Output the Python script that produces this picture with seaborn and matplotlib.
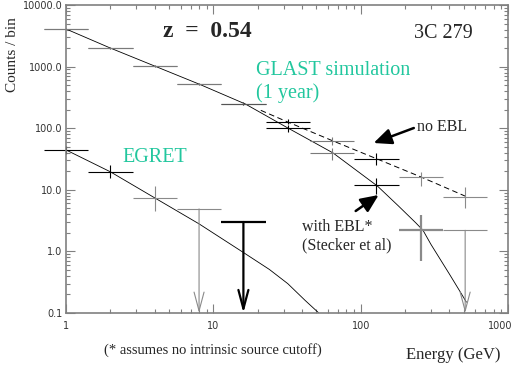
"""
GLAST simulation vs EGRET spectrum of 3C 279 (z = 0.54)
"""

import numpy as np
import pandas as pd
import matplotlib
matplotlib.use('Agg')
import matplotlib.pyplot as plt
import matplotlib.transforms as mtransforms
from matplotlib.ticker import FuncFormatter, NullFormatter, LogLocator
import seaborn as sns

# Energy bins (GeV)
bin_center = [1, 2, 4, 8, 16, 32, 64, 128, 256, 512]
bin_lo = [0.71, 1.41, 2.83, 5.66, 11.3, 22.6, 45.3, 90.5, 181, 362]
bin_hi = [1.41, 2.83, 5.66, 11.3, 22.6, 45.3, 90.5, 181, 362, 724]

# GLAST simulated counts, no EBL absorption
glast_noebl = [4080, 2000, 1020, 520, 250, 126, 62, 31.6, 16.2, 7.6]
glast_noebl_lo = [4020, 1955, 988, 497, 235, 115, 54, 25.1, 11.6, 5.1]
glast_noebl_hi = [4140, 2045, 1052, 543, 266, 141, 72, 39.4, 19.5, 11.1]

# GLAST simulated counts, with EBL absorption (last bin is an upper limit)
glast_ebl = [4080, 2000, 1020, 520, 250, 101, 39.6, 12.0, 2.2, 2.2]
glast_ebl_lo = [4020, 1955, 988, 497, 235, 86.6, 30.3, 8.4, 0.70, np.nan]
glast_ebl_hi = [4140, 2045, 1052, 543, 266, 114, 47, 15.6, 3.9, np.nan]
glast_ebl_limit = [False, False, False, False, False, False, False, False, False, True]

# EGRET counts (last two bins are upper limits)
egret_center = [1, 2, 4, 8, 16]
egret = [44.4, 19.6, 7.4, 4.9, 3.0]
egret_lo = [38.0, 15.6, 4.5, np.nan, np.nan]
egret_hi = [51.0, 25.4, 11.6, np.nan, np.nan]
egret_limit = [False, False, False, True, True]

# model curves
curve_ebl_E = [1, 2, 4, 8, 16.5, 32, 65, 130, 180, 237, 265, 300, 400, 480, 522]
curve_ebl = [4080, 2000, 1020, 520, 247, 101, 39.6, 11.5, 5.5, 2.9, 2.2, 1.3, 0.43, 0.21, 0.15]
curve_noebl_E = [21, 32, 64, 128, 256, 525]
curve_noebl = [195, 126, 63, 32, 16.2, 7.7]
curve_egret_E = [1, 2, 4, 8, 16, 24, 32, 42, 52]
curve_egret = [44.4, 19.6, 7.4, 2.8, 0.96, 0.51, 0.30, 0.16, 0.1]

# bar colours / widths per bin, as rendered
noebl_colors = ['#7a7a7a', '#7a7a7a', '#7a7a7a', '#7a7a7a', '#555555',
                'black', '#7a7a7a', 'black', '#8a8a8a', '#8a8a8a']
ebl_colors = ['#7a7a7a', '#7a7a7a', '#7a7a7a', '#7a7a7a', '#555555',
              'black', '#7a7a7a', 'black', '#8a8a8a', '#8a8a8a']
ebl_widths = [0.8, 0.8, 0.8, 0.8, 0.8, 0.8, 0.8, 0.8, 1.6, 0.8]
egret_colors = ['black', 'black', '#8a8a8a', '#8a8a8a', 'black']
egret_widths = [0.8, 0.8, 0.8, 0.8, 1.6]

TEAL = '#22c79e'
SERIF = ['Liberation Serif', 'DejaVu Serif']
Y_FLOOR = 0.1


def draw_cross(ax, x, lo, hi, y, ylo, yhi, color, lw):
    ax.hlines(y, lo, hi, colors=color, linewidth=lw, clip_on=False)
    if not np.isnan(ylo):
        ax.vlines(x, ylo, yhi, colors=color, linewidth=lw, clip_on=False)


def draw_limit(ax, x, lo, hi, y, color, lw):
    ax.hlines(y, lo, hi, colors=color, linewidth=lw, clip_on=False)
    ax.annotate('', xy=(x, Y_FLOOR), xytext=(x, y),
                arrowprops=dict(arrowstyle='->,head_length=1.35,head_width=0.36',
                                color=color, lw=lw, shrinkA=0, shrinkB=0,
                                mutation_scale=10))


sns.set_style('ticks')
plt.rcParams['lines.scale_dashes'] = False

fig = plt.figure(figsize=(5.23, 3.67), dpi=100)
ax = fig.add_axes([0.1262, 0.1471, 0.8451, 0.8393])

# model curves
df_ebl = pd.DataFrame({'E': curve_ebl_E, 'C': curve_ebl})
df_noebl = pd.DataFrame({'E': curve_noebl_E, 'C': curve_noebl})
df_egret = pd.DataFrame({'E': curve_egret_E, 'C': curve_egret})
sns.lineplot(data=df_ebl, x='E', y='C', color='black', linewidth=0.6, ax=ax)
sns.lineplot(data=df_noebl, x='E', y='C', color='black', linewidth=0.7,
             linestyle=(0, (4.0, 2.5)), ax=ax)
sns.lineplot(data=df_egret, x='E', y='C', color='black', linewidth=0.6, ax=ax)

# GLAST points
for i in range(len(bin_center)):
    draw_cross(ax, bin_center[i], bin_lo[i], bin_hi[i], glast_noebl[i],
               glast_noebl_lo[i], glast_noebl_hi[i], noebl_colors[i], 0.8)
    if glast_ebl_limit[i]:
        draw_limit(ax, bin_center[i], bin_lo[i], bin_hi[i], glast_ebl[i],
                   ebl_colors[i], ebl_widths[i])
    else:
        draw_cross(ax, bin_center[i], bin_lo[i], bin_hi[i], glast_ebl[i],
                   glast_ebl_lo[i], glast_ebl_hi[i], ebl_colors[i], ebl_widths[i])

# EGRET points
for i in range(len(egret_center)):
    if egret_limit[i]:
        draw_limit(ax, egret_center[i], bin_lo[i], bin_hi[i], egret[i],
                   egret_colors[i], egret_widths[i])
    else:
        draw_cross(ax, egret_center[i], bin_lo[i], bin_hi[i], egret[i],
                   egret_lo[i], egret_hi[i], egret_colors[i], egret_widths[i])

# axes
ax.set_xscale('log')
ax.set_yscale('log')
ax.set_xlim(1, 1000)
ax.set_ylim(0.1, 10000)
ax.set_xlabel('')
ax.set_ylabel('')
ax.xaxis.set_major_locator(LogLocator(base=10, numticks=10))
ax.yaxis.set_major_locator(LogLocator(base=10, numticks=10))
ax.xaxis.set_major_formatter(FuncFormatter(lambda v, p: '%d' % round(v)))
ax.yaxis.set_major_formatter(FuncFormatter(lambda v, p: '%.1f' % v))
ax.xaxis.set_minor_formatter(NullFormatter())
ax.yaxis.set_minor_formatter(NullFormatter())

for s in ax.spines.values():
    s.set_color('#808080')
    s.set_linewidth(1.2)
ax.tick_params(which='both', direction='in', top=True, right=True,
               color='#808080', width=0.8, labelcolor='#333333')
ax.tick_params(which='major', length=6.5)
ax.tick_params(which='minor', length=3.2)
ax.tick_params(axis='x', labelsize=7, pad=6)
ax.tick_params(axis='y', labelsize=7, pad=2.5)

# pull the "1000" label a bit left, as in the original
fig.canvas.draw()
shift = mtransforms.ScaledTranslation(-8 / 100, 0, fig.dpi_scale_trans)
for lab in ax.get_xticklabels():
    if lab.get_text() == '1000':
        lab.set_transform(lab.get_transform() + shift)

# annotations
ax.text(0.320, 0.896, 'z  =  0.54', transform=ax.transAxes, ha='center',
        va='baseline', fontsize=17, fontweight='bold', family=SERIF)
ax.text(0.853, 0.893, '3C 279', transform=ax.transAxes, ha='center',
        va='baseline', fontsize=14.5, family=SERIF)
ax.text(0.430, 0.773, 'GLAST simulation', transform=ax.transAxes,
        va='baseline', fontsize=14.5, color=TEAL, family=SERIF)
ax.text(0.430, 0.698, '(1 year)', transform=ax.transAxes,
        va='baseline', fontsize=14.5, color=TEAL, family=SERIF)
ax.text(0.127, 0.490, 'EGRET', transform=ax.transAxes,
        va='baseline', fontsize=14.5, color=TEAL, family=SERIF)
ax.text(0.794, 0.591, 'no EBL', transform=ax.transAxes,
        va='baseline', fontsize=11.5, family=SERIF)
ax.text(0.534, 0.266, 'with EBL*', transform=ax.transAxes,
        va='baseline', fontsize=11.5, family=SERIF)
ax.text(0.534, 0.208, '(Stecker et al)', transform=ax.transAxes,
        va='baseline', fontsize=11.5, family=SERIF)

arrow_kw = dict(arrowstyle='-|>,head_length=0.9,head_width=0.4', color='black',
                lw=1.8, shrinkA=0, shrinkB=0, mutation_scale=12)
ax.annotate('', xy=(122.5, 57.5), xytext=(229.5, 100.7), arrowprops=arrow_kw)
ax.annotate('', xy=(132.5, 8.24), xytext=(92.5, 4.53), arrowprops=arrow_kw)

fig.text(0.407, 0.0354, '(* assumes no intrinsic source cutoff)', ha='center',
         va='baseline', fontsize=10.5, family=SERIF)
fig.text(0.866, 0.0218, 'Energy (GeV)', ha='center', va='baseline',
         fontsize=12, family=SERIF)
fig.text(0.023, 0.850, 'Counts / bin', rotation=90, ha='center', va='center',
         fontsize=11, family=SERIF)

fig.savefig('out.png', dpi=100)
